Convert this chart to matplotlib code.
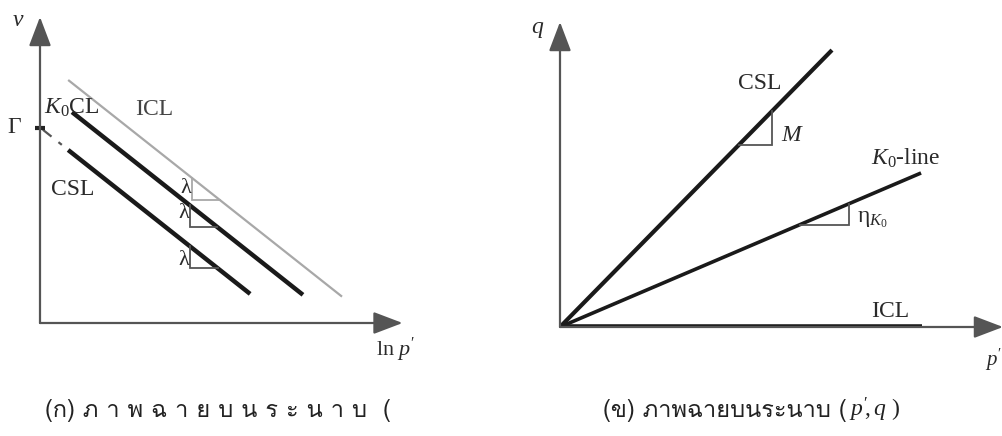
import matplotlib
matplotlib.use("Agg")
import matplotlib.pyplot as plt
from matplotlib import font_manager

# ---- fonts -------------------------------------------------------------
def find_thai_font():
    try:
        from fontTools.ttLib import TTFont
    except Exception:
        return None
    for fe in font_manager.fontManager.ttflist:
        try:
            f = TTFont(fe.fname, fontNumber=0, lazy=True)
            cmap = f.getBestCmap()
            if cmap and 0x0E01 in cmap and 0x0E20 in cmap:
                return fe.name
        except Exception:
            continue
    return None

THAI = find_thai_font()
CAPTION_FAMILY = [THAI, "DejaVu Sans"] if THAI else ["DejaVu Sans"]

plt.rcParams["font.family"] = ["Liberation Serif", "DejaVu Serif"]
plt.rcParams["mathtext.fontset"] = "custom"
plt.rcParams["mathtext.rm"] = "Liberation Serif"
plt.rcParams["mathtext.it"] = "Liberation Serif:italic"

# ---- data: (a) v - ln p' plane ------------------------------------------
icl_x = [0.80, 8.58]
icl_y = [8.02, 0.87]
k0cl_x = [0.91, 7.47]
k0cl_y = [6.96, 0.93]
csl_x = [0.80, 5.97]
csl_y = [5.71, 0.96]
csl_ext_x = [0.08, 0.62]
csl_ext_y = [6.38, 5.88]
gamma_v = 6.45
# slope triangles (corner x, top y on line, bottom y, right x on line)
tri_icl = [4.32, 4.79, 4.06, 5.11]
tri_k0cl = [4.26, 3.88, 3.17, 5.03]
tri_csl = [4.26, 2.53, 1.80, 5.06]

# ---- data: (b) q - p' plane ---------------------------------------------
csl_b_x = [0.0, 6.14]
csl_b_y = [0.0, 9.17]
k0_b_x = [0.0, 8.15]
k0_b_y = [0.0, 5.10]
icl_b_x = [0.0, 8.17]
icl_b_y = [0.0, 0.0]
tri_M = [4.79, 7.15, 6.03, 4.04]
tri_eta = [6.52, 4.08, 3.38, 5.42]

captions = ["(ก) ภ า พ ฉ า ย บ น ร ะ น า บ  (", "(ข) ภาพฉายบนระนาบ ("]

AXIS_C = "#555555"
TXT_C = "#2a2a2a"

fig = plt.figure(figsize=(10.03, 4.36), dpi=100)
fig.patch.set_facecolor("white")

axA = fig.add_axes([40 / 1003, 113 / 436, 352 / 1003, 303 / 436])
axB = fig.add_axes([560 / 1003, 109 / 436, 443 / 1003, 302 / 436])
for ax in (axA, axB):
    ax.set_xlim(0, 10)
    ax.set_ylim(0, 10)
    ax.axis("off")


def axis_arrows(ax, xtip, ytip):
    kw = dict(arrowstyle="-|>,head_length=1.0,head_width=0.38",
              color=AXIS_C, lw=1.6, mutation_scale=18, shrinkA=0, shrinkB=0)
    ax.annotate("", xy=(xtip, 0), xytext=(0, 0), arrowprops=kw,
                annotation_clip=False)
    ax.annotate("", xy=(0, ytip), xytext=(0, 0), arrowprops=kw,
                annotation_clip=False)


def slope_triangle(ax, t, color, lw):
    x0, ytop, ybot, x1 = t
    ax.plot([x0, x0, x1], [ytop, ybot, ybot], color=color, lw=lw,
            solid_joinstyle="miter", clip_on=False)


# ---- panel (a) -----------------------------------------------------------
axis_arrows(axA, 10.3, 10.1)
axA.plot(icl_x, icl_y, color="#a8a8a8", lw=1.6, solid_capstyle="butt")
axA.plot(k0cl_x, k0cl_y, color="#1a1a1a", lw=3.2, solid_capstyle="butt")
axA.plot(csl_x, csl_y, color="#1a1a1a", lw=3.2, solid_capstyle="butt")
axA.plot(csl_ext_x, csl_ext_y, color="#555555", lw=1.6, ls=(0, (5, 4)))
axA.plot([-0.14, 0.14], [gamma_v, gamma_v], color="#222222", lw=3.0,
         solid_capstyle="butt", clip_on=False)

slope_triangle(axA, tri_icl, "#a8a8a8", 1.3)
slope_triangle(axA, tri_k0cl, "#555555", 1.3)
slope_triangle(axA, tri_csl, "#555555", 1.3)

fs = 17
axA.text(tri_icl[0] - 0.02, 4.45, "λ", fontsize=fs - 1, ha="right",
         va="center", color=TXT_C)
axA.text(tri_k0cl[0] - 0.02, 3.62, "λ", fontsize=fs - 1, ha="right",
         va="center", color=TXT_C)
axA.text(tri_csl[0] - 0.02, 2.05, "λ", fontsize=fs - 1, ha="right",
         va="center", color=TXT_C)

axA.text(0.12, 7.1, r"$K_0$CL", fontsize=fs, ha="left", va="center",
         color=TXT_C)
axA.text(2.7, 7.05, "ICL", fontsize=fs, ha="left", va="center",
         color="#444444")
axA.text(0.3, 4.4, "CSL", fontsize=fs, ha="left", va="center", color=TXT_C)
axA.text(-0.55, gamma_v, "Γ", fontsize=fs, ha="right", va="center",
         color=TXT_C)
axA.text(-0.62, 10.0, "$v$", fontsize=fs, ha="center", va="center",
         color=TXT_C)
axA.text(10.1, -0.9, r"ln $p'$", fontsize=fs - 1, ha="center",
         va="center", color=TXT_C)

# ---- panel (b) -----------------------------------------------------------
axis_arrows(axB, 10.0, 10.1)
axB.plot(csl_b_x, csl_b_y, color="#1a1a1a", lw=3.0, solid_capstyle="butt")
axB.plot(k0_b_x, k0_b_y, color="#1a1a1a", lw=2.6, solid_capstyle="butt")
axB.plot(icl_b_x, icl_b_y, color="#1a1a1a", lw=4.0, solid_capstyle="butt")

slope_triangle(axB, tri_M, "#555555", 1.3)
slope_triangle(axB, tri_eta, "#555555", 1.3)

axB.text(4.51, 8.05, "CSL", fontsize=fs, ha="center", va="center",
         color=TXT_C)
axB.text(4.98, 6.35, "$M$", fontsize=fs, ha="left", va="center",
         color=TXT_C)
axB.text(7.8, 5.6, r"$K_0$-line", fontsize=fs, ha="center", va="center",
         color=TXT_C)
axB.text(6.7, 3.55, r"$\mathregular{\eta}_{K_0}$", fontsize=fs, ha="left",
         va="center", color=TXT_C)
axB.text(7.45, 0.52, "ICL", fontsize=fs, ha="center", va="center",
         color=TXT_C)
axB.text(-0.5, 9.85, "$q$", fontsize=fs, ha="center", va="center",
         color=TXT_C)
axB.text(9.97, -1.1, "$p'$", fontsize=fs - 2, ha="right", va="center",
         color=TXT_C)

# ---- captions ------------------------------------------------------------
fig.text(45 / 1003, 1 - 410 / 436, captions[0], fontsize=17,
         family=CAPTION_FAMILY, ha="left", va="center", color="#222222")
t2 = fig.text(603 / 1003, 1 - 410 / 436, captions[1], fontsize=17,
              family=CAPTION_FAMILY, ha="left", va="center", color="#222222")
fig.canvas.draw()
bb = t2.get_window_extent()
fig.text(bb.x1 / 1003 + 0.002, 1 - 410 / 436, r"$p'\!,q$ )",
         fontsize=17, ha="left", va="center", color="#222222")

fig.savefig("out.png", dpi=100, facecolor="white")
